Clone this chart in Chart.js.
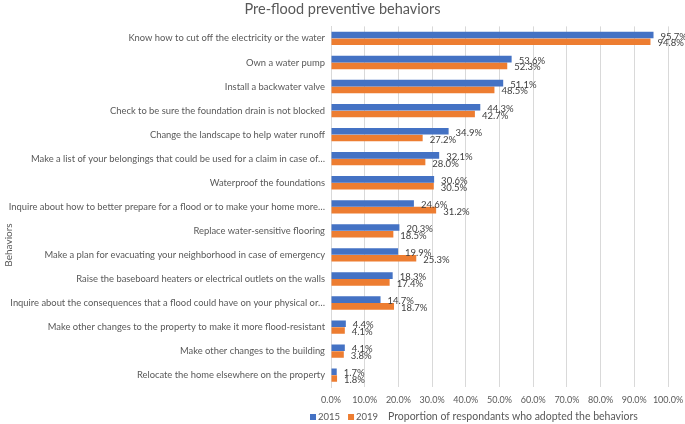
<!DOCTYPE html>
<html>
<head>
<meta charset="utf-8">
<script src="https://cdn.jsdelivr.net/npm/chart.js@4"></script>
<style>
  html, body { margin: 0; padding: 0; background: #fff; }
  #wrap { width: 685px; height: 424px; }
</style>
</head>
<body>
<div id="wrap"><canvas id="chart"></canvas></div>
<script>
const behaviors = [
  "Know how to cut off the electricity or the water",
  "Own a water pump",
  "Install a backwater valve",
  "Check to be sure the foundation drain is not blocked",
  "Change the landscape to help water runoff",
  "Make a list of your belongings that could be used for a claim in case of…",
  "Waterproof the foundations",
  "Inquire about how to better prepare for a flood or to make your home more…",
  "Replace water-sensitive flooring",
  "Make a plan for evacuating your neighborhood in case of emergency",
  "Raise the baseboard heaters or electrical outlets on the walls",
  "Inquire about the consequences that a flood could have on your physical or…",
  "Make other changes to the property to make it more flood-resistant",
  "Make other changes to the building",
  "Relocate the home elsewhere on the property",
];
const values2015 = [95.7, 53.6, 51.1, 44.3, 34.9, 32.1, 30.6, 24.6, 20.3, 19.9, 18.3, 14.7, 4.4, 4.1, 1.7];
const values2019 = [94.8, 52.3, 48.5, 42.7, 27.2, 28.0, 30.5, 31.2, 18.5, 25.3, 17.4, 18.7, 4.1, 3.8, 1.8];
const seriesNames = ["2015", "2019"];
const seriesColors = ["#4472C4", "#ED7D31"];
const xTitle = "Proportion of respondants who adopted the behaviors";
const yTitle = "Behaviors";

const FONT = "Lato, 'Open Sans', sans-serif";
const TEXT = "#595959";

// value labels at the end of each bar
const barLabels = {
  id: "barLabels",
  afterDatasetsDraw(chart) {
    const ctx = chart.ctx;
    ctx.save();
    ctx.font = "9.5px " + FONT;
    ctx.fillStyle = "#404040";
    ctx.textAlign = "left";
    ctx.textBaseline = "middle";
    chart.data.datasets.forEach((ds, i) => {
      chart.getDatasetMeta(i).data.forEach((bar, j) => {
        ctx.fillText(ds.data[j].toFixed(1) + "%", bar.x + 7, bar.y + 1.5);
      });
    });
    ctx.restore();
  },
};

// y title + legend line with the x title, placed like the original
const extras = {
  id: "extras",
  afterDraw(chart) {
    const ctx = chart.ctx;
    ctx.save();
    ctx.fillStyle = TEXT;
    ctx.font = "10px " + FONT;
    ctx.textBaseline = "middle";
    ctx.translate(9, 245);
    ctx.rotate(-Math.PI / 2);
    ctx.textAlign = "center";
    ctx.fillText(yTitle, 0, 0);
    ctx.restore();

    ctx.save();
    ctx.font = "9.5px " + FONT;
    ctx.textBaseline = "middle";
    const y = 417;
    let x = 310;
    seriesNames.forEach((name, i) => {
      ctx.fillStyle = seriesColors[i];
      ctx.fillRect(x, y - 3, 6, 6);
      ctx.fillStyle = TEXT;
      ctx.fillText(name, x + 8, y);
      x += 8 + ctx.measureText(name).width + 8;
    });
    ctx.font = "10.5px " + FONT;
    ctx.fillText(xTitle, 388, y);
    ctx.restore();
  },
};

new Chart(document.getElementById("chart"), {
  type: "bar",
  data: {
    labels: behaviors,
    datasets: seriesNames.map((name, i) => ({
      label: name,
      data: i === 0 ? values2015 : values2019,
      backgroundColor: seriesColors[i],
      borderWidth: 0,
      categoryPercentage: 0.56,
      barPercentage: 0.98,
    })),
  },
  options: {
    indexAxis: "y",
    responsive: true,
    maintainAspectRatio: false,
    animation: false,
    layout: { padding: { top: 0, right: 0, bottom: 12, left: 0 } },
    plugins: {
      legend: { display: false },
      tooltip: { enabled: false },
      title: {
        display: true,
        text: "Pre-flood preventive behaviors",
        color: TEXT,
        font: { family: FONT, size: 14.5, weight: "normal" },
        padding: { top: 1, bottom: 8 },
      },
    },
    scales: {
      x: {
        min: 0,
        max: 100,
        grid: { color: "#D9D9D9", drawTicks: false },
        border: { display: false },
        afterFit: (s) => { s.paddingLeft = 0; s.paddingRight = 17; },
        ticks: { stepSize: 10, autoSkip: false, maxRotation: 0, minRotation: 0, color: TEXT, font: { family: FONT, size: 9 }, padding: 7, callback: (v) => v.toFixed(1) + "%" },
      },
      y: {
        grid: { display: false, drawTicks: false },
        border: { color: "#D9D9D9" },
        afterFit: (s) => { s.width = 331; },
        ticks: { autoSkip: false, color: TEXT, font: { family: FONT, size: 9.4 }, padding: 6 },
      },
    },
  },
  plugins: [barLabels, extras],
});
</script>
</body>
</html>
